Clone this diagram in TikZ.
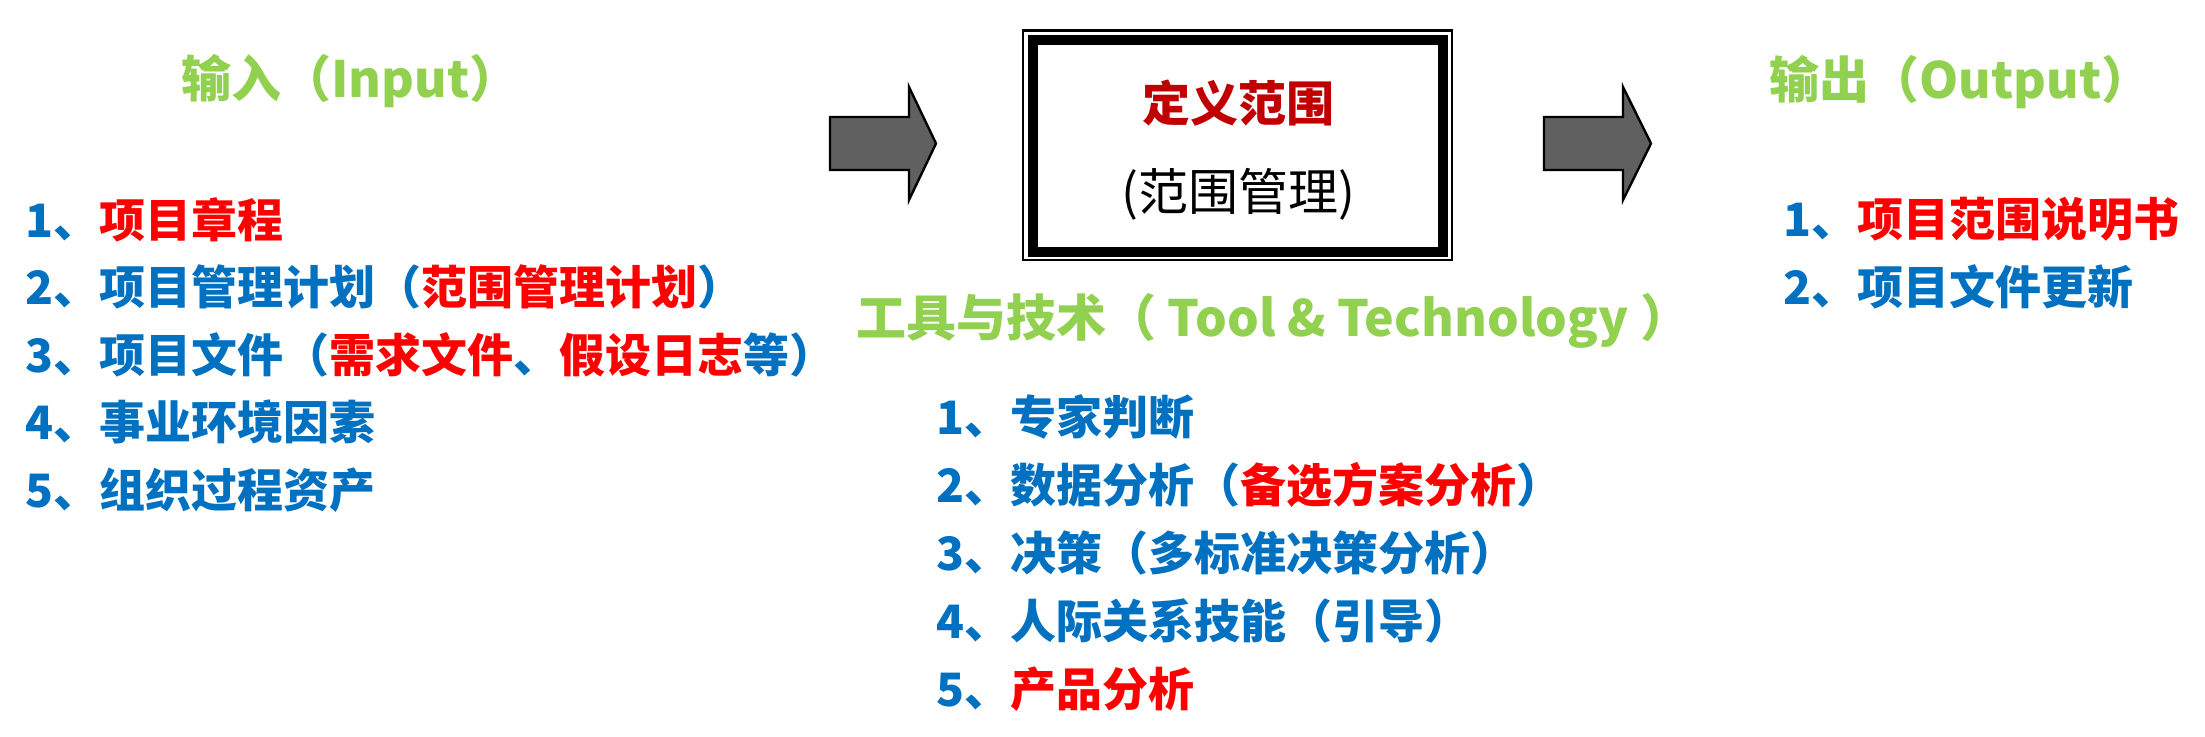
\documentclass[tikz,border=0pt]{standalone}
\usepackage{fontspec}
\IfFontExistsTF{Noto Sans CJK SC Black}
  {\setmainfont{Noto Sans CJK SC}[BoldFont={Noto Sans CJK SC Black}]}
  {\setmainfont{Noto Sans CJK SC}[BoldFont={Noto Sans CJK SC Bold},BoldFeatures={FakeBold=1.5}]}
\usetikzlibrary{matrix,math,positioning}
\usepackage{xcolor}

\definecolor{headgreen}{HTML}{92D050}
\definecolor{listblue}{HTML}{0070C0}
\definecolor{listred}{HTML}{FF0000}
\definecolor{boxred}{HTML}{C00000}
\definecolor{arrowgray}{HTML}{606060}
\newcommand{\key}[1]{\textcolor{listred}{#1}}

\begin{document}
\begin{tikzpicture}[x=0.5pt,y=-0.5pt]

\tikzmath{
	\R = 33.75;
	\T = 34;
}

\tikzset{heading/.style={
    anchor=west, inner sep=0pt,
    text height=19pt, text depth=0pt,
    font=\fontsize{25}{25}\selectfont\bfseries,
    text=headgreen
  },
  item list/.style={
    matrix of nodes,
    anchor=west, inner sep=0pt,
    row sep=#1pt-17.48pt,
    nodes={anchor=west,
      inner sep=0pt,
      text height=17.48pt, text depth=0pt,
      font=\fontsize{23}{23}\selectfont\bfseries,
      text=listblue
    },
  },
  item list/.default=\R,
  procbox/.style={draw, line width=5pt, outer sep=0pt, inner sep=0pt,
    minimum width=205pt, minimum height=106pt},
  fat arrow/.style={draw=black, line width=1.2pt, fill=arrowgray}
}

\useasboundingbox (0,0) rectangle (2205,737);

% headings
\node[heading] (inhead) at (181,79) {输入（Input）};
\node[heading] (toolhead) at (856,318) {工具与技术（ Tool \& Technology ）};
\node[heading] (outhead) at (1769,80) {输出（Output）};

% process box
\node[procbox] (proc) at (1238,146) {};
\draw[line width=1.25pt] ([shift={(-10,-9.5)}]proc.north west) rectangle ([shift={(9,8)}]proc.south east);
\node[inner sep=0pt, text height=18.24pt, text depth=0pt, font=\fontsize{24}{24}\selectfont\bfseries, text=boxred] (proctitle) at (1238,103) {定义范围};
\node[inner sep=0pt, text height=19pt, text depth=0pt, font=\fontsize{25}{25}\selectfont] (procsub) at (1238,192) {(范围管理)};

% block arrows
\draw[fat arrow] (830,117) -- ++(79,0) -- ++(0,-30) -- ++(27,56.5) -- ++(-27,56.5) -- ++(0,-30) -- ++(-79,0) -- cycle;
\draw[fat arrow] (1544,117) -- ++(79,0) -- ++(0,-30) -- ++(28,56.5) -- ++(-28,56.5) -- ++(0,-30) -- ++(-79,0) -- cycle;

% lists
\matrix[item list] (inlist) at (25,355)
{
1、\key{项目章程} \\
2、项目管理计划（\key{范围管理计划}） \\
3、项目文件（\key{需求文件}、\key{假设日志}等） \\
4、事业环境因素 \\
5、组织过程资产 \\
};

\matrix[item list=\T] (toollist) at (936,553.5)
{
1、专家判断 \\
2、数据分析（\key{备选方案分析}） \\
3、决策（多标准决策分析） \\
4、人际关系技能（引导） \\
5、\key{产品分析} \\
};

\matrix[item list] (outlist) at (1783,253)
{
1、\key{项目范围说明书} \\
2、项目文件更新 \\
};

\end{tikzpicture}
\end{document}
